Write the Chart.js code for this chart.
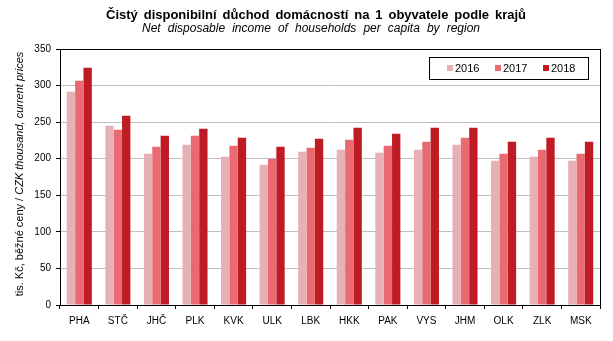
<!DOCTYPE html>
<html>
<head>
<meta charset="utf-8">
<script src="https://cdn.jsdelivr.net/npm/chart.js@4/dist/chart.umd.min.js"></script>
<style>
  html, body { margin: 0; padding: 0; background: #fff; }
  #wrap { position: relative; width: 613px; height: 341px; }
</style>
</head>
<body>
<div id="wrap"><canvas id="chart"></canvas></div>
<script>
// ---- Data ----
const regions = ['PHA', 'STČ', 'JHČ', 'PLK', 'KVK', 'ULK', 'LBK', 'HKK', 'PAK', 'VYS', 'JHM', 'OLK', 'ZLK', 'MSK'];
const years = ['2016', '2017', '2018'];
const income2016 = [291.6, 245.1, 206.8, 219.1, 202.6, 191.7, 209.5, 212.2, 208.1, 212.2, 219.1, 197.2, 202.6, 197.2];
const income2017 = [306.7, 239.6, 216.3, 231.4, 217.7, 199.9, 215.0, 225.9, 217.7, 223.2, 228.7, 206.8, 212.2, 206.8];
const income2018 = [324.5, 258.8, 231.4, 241.0, 228.7, 216.3, 227.3, 242.4, 234.1, 242.4, 242.4, 223.2, 228.7, 223.2];
const yTicks = [0, 50, 100, 150, 200, 250, 300, 350];

const titleText = 'Čistý disponibilní důchod domácností na 1 obyvatele podle krajů';
const subtitleText = 'Net disposable income of households per capita by region';
const yTitleParts = ['tis. Kč, běžné ceny / ', 'CZK thousand, current prices'];

const COLOURS = ['#E6B0B4', '#E96A70', '#BE1B24'];
const FONT = '"Liberation Sans", Arial, sans-serif';

// Draws a line of words spread to a given total width, centred on cx.
function spreadText(ctx, text, cx, y, width) {
    const words = text.split(' ');
    const widths = words.map((w) => ctx.measureText(w).width);
    const sum = widths.reduce((a, b) => a + b, 0);
    const gap = Math.max((width - sum) / (words.length - 1), ctx.measureText(' ').width);
    const total = sum + gap * (words.length - 1);
    let x = cx - total / 2;
    words.forEach((w, i) => {
        ctx.fillText(w, x, y);
        x += widths[i] + gap;
    });
}

// Titles, frame round the plot area, legend box and two-style axis title.
const decorations = {
    id: 'decorations',
    afterDraw(chart) {
        const ctx = chart.ctx;
        const a = chart.chartArea;
        ctx.save();
        ctx.fillStyle = '#000';
        ctx.textBaseline = 'alphabetic';
        ctx.font = 'bold 13px ' + FONT;
        spreadText(ctx, titleText, 316, 18.5, 420);
        ctx.font = 'italic 12px ' + FONT;
        spreadText(ctx, subtitleText, 311, 32, 338);

        ctx.strokeStyle = '#000';
        ctx.lineWidth = 1;
        ctx.strokeRect(Math.round(a.left) + 0.5, Math.round(a.top) + 0.5,
            Math.round(a.right - a.left), Math.round(a.bottom - a.top));

        // legend
        const lx = 429, ly = 57, lw = 159, lh = 22;
        ctx.fillStyle = '#fff';
        ctx.fillRect(lx, ly, lw, lh);
        ctx.strokeRect(lx + 0.5, ly + 0.5, lw, lh);
        ctx.font = '11px ' + FONT;
        ctx.textBaseline = 'middle';
        chart.data.datasets.forEach((ds, i) => {
            const x = 447 + i * 48;
            ctx.fillStyle = ds.backgroundColor;
            ctx.fillRect(x, 65, 6, 6);
            ctx.fillStyle = '#000';
            ctx.fillText(ds.label, x + 8, 68.5);
        });

        // y axis title
        const fs = '11px ';
        ctx.translate(20, 174);
        ctx.rotate(-Math.PI / 2);
        ctx.textBaseline = 'middle';
        ctx.font = fs + FONT;
        const w1 = ctx.measureText(yTitleParts[0]).width;
        ctx.font = 'italic ' + fs + FONT;
        const w2 = ctx.measureText(yTitleParts[1]).width;
        const x0 = -(w1 + w2) / 2;
        ctx.fillStyle = '#000';
        ctx.font = fs + FONT;
        ctx.fillText(yTitleParts[0], x0, 0);
        ctx.font = 'italic ' + fs + FONT;
        ctx.fillText(yTitleParts[1], x0 + w1, 0);
        ctx.restore();
    }
};

const sets = [income2016, income2017, income2018];

new Chart(document.getElementById('chart').getContext('2d'), {
    type: 'bar',
    data: {
        labels: regions,
        datasets: years.map((y, i) => ({
            label: y,
            data: sets[i],
            backgroundColor: COLOURS[i],
            borderWidth: 0,
            categoryPercentage: 0.65,
            barPercentage: 1.0,
        })),
    },
    options: {
        responsive: true,
        maintainAspectRatio: false,
        animation: false,
        layout: { padding: { left: 7, right: 13, top: 49, bottom: 0 } },
        plugins: {
            legend: { display: false },
            tooltip: { enabled: false },
        },
        scales: {
            x: {
                grid: { offset: true, drawOnChartArea: false, drawTicks: true, tickLength: 4, tickColor: '#000' },
                border: { color: '#000' },
                ticks: { color: '#000', font: { family: FONT, size: 10 }, padding: 6, maxRotation: 0 },
                afterFit: (s) => { s.height = 36; },
            },
            y: {
                min: 0,
                max: 350,
                afterBuildTicks: (s) => { s.ticks = yTicks.map((v) => ({ value: v })); },
                grid: { color: '#BFBFBF', tickColor: '#000', tickLength: 4 },
                border: { color: '#000' },
                ticks: { color: '#000', font: { family: FONT, size: 10 }, padding: 5 },
                afterFit: (s) => { s.width = 53; },
            },
        },
    },
    plugins: [decorations],
});
</script>
</body>
</html>
